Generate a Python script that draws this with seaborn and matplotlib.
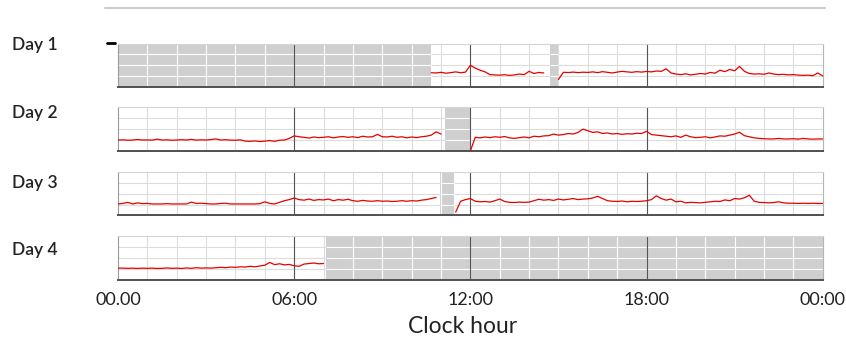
import numpy as np
import pandas as pd
import seaborn as sns
import matplotlib.pyplot as plt
from matplotlib.lines import Line2D

# readings every 10 minutes (6 per hour), 00:00 .. 24:00, None = no data
N = None

day1_values = (
    [N] * 64 +                                            # 00:00 - 10:30 missing
    [1.32, 1.30] +                                        # 10h
    [1.36, 1.28, 1.33, 1.40, 1.32, 1.38] +                # 11h
    [2.00, 1.75, 1.55, 1.40, 1.15, 1.12] +                # 12h
    [1.10, 1.14, 1.08, 1.12, 1.20, 1.15] +                # 13h
    [1.45, 1.25, 1.35, 1.30, N, N] +                      # 14h
    [0.70, 1.36, 1.34, 1.38, 1.33, 1.37] +                # 15h
    [1.35, 1.40, 1.33, 1.42, 1.36, 1.30] +                # 16h
    [1.38, 1.45, 1.40, 1.36, 1.42, 1.38] +                # 17h
    [1.44, 1.40, 1.48, 1.45, 1.68, 1.30] +                # 18h
    [1.20, 1.15, 1.22, 1.12, 1.18, 1.25] +                # 19h
    [1.20, 1.35, 1.28, 1.55, 1.42, 1.62] +                # 20h
    [1.50, 1.90, 1.45, 1.25, 1.20, 1.22] +                # 21h
    [1.18, 1.30, 1.20, 1.15, 1.18, 1.12] +                # 22h
    [1.15, 1.10, 1.08, 1.10, 1.05, 1.30] +                # 23h
    [1.02]
)

day2_values = (
    [1.00, 1.02, 0.98, 1.00, 1.05, 1.00] +                # 0h
    [1.01, 0.99, 1.08, 1.00, 1.02, 0.98] +                # 1h
    [1.00, 1.03, 1.00, 1.06, 0.99, 1.02] +                # 2h
    [1.00, 1.05, 1.10, 1.00, 1.03, 0.99] +                # 3h
    [0.98, 1.02, 0.90, 0.88, 0.92, 0.86] +                # 4h
    [0.90, 0.95, 0.88, 0.98, 1.00, 1.15] +                # 5h
    [1.38, 1.30, 1.25, 1.18, 1.28, 1.22] +                # 6h
    [1.25, 1.30, 1.20, 1.28, 1.32, 1.25] +                # 7h
    [1.30, 1.22, 1.35, 1.28, 1.30, 1.52] +                # 8h
    [1.30, 1.28, 1.35, 1.25, 1.30, 1.20] +                # 9h
    [1.28, 1.22, 1.30, 1.35, 1.45, 1.75] +                # 10h
    [1.55, N, N, N, N, N] +                               # 11h
    [0.00, 1.25, 1.20, 1.28, 1.22, 1.30] +                # 12h
    [1.25, 1.32, 1.20, 1.15, 1.22, 1.28] +                # 13h
    [1.20, 1.35, 1.30, 1.38, 1.40, 1.55] +                # 14h
    [1.45, 1.50, 1.60, 1.55, 1.70, 2.00] +                # 15h
    [1.85, 1.70, 1.75, 1.60, 1.65, 1.55] +                # 16h
    [1.60, 1.52, 1.58, 1.55, 1.62, 1.60] +                # 17h
    [1.80, 1.50, 1.45, 1.40, 1.35, 1.30] +                # 18h
    [1.38, 1.25, 1.45, 1.30, 1.22, 1.25] +                # 19h
    [1.30, 1.20, 1.28, 1.38, 1.35, 1.45] +                # 20h
    [1.55, 1.72, 1.40, 1.30, 1.20, 1.15] +                # 21h
    [1.12, 1.10, 1.10, 1.15, 1.10, 1.10] +                # 22h
    [1.12, 1.08, 1.15, 1.10, 1.08, 1.10] +                # 23h
    [1.10]
)

day3_values = (
    [1.05, 1.10, 1.20, 1.05, 1.15, 1.08] +                # 0h
    [1.10, 1.05, 1.05, 1.05, 1.08, 1.05] +                # 1h
    [1.05, 1.05, 1.05, 1.22, 1.10, 1.12] +                # 2h
    [1.08, 1.05, 1.05, 1.10, 1.12, 1.05] +                # 3h
    [1.05, 1.05, 1.05, 1.05, 1.05, 1.08] +                # 4h
    [1.25, 1.10, 1.05, 1.20, 1.35, 1.45] +                # 5h
    [1.60, 1.45, 1.40, 1.50, 1.38, 1.45] +                # 6h
    [1.42, 1.50, 1.35, 1.45, 1.40, 1.48] +                # 7h
    [1.35, 1.30, 1.38, 1.32, 1.30, 1.35] +                # 8h
    [1.30, 1.32, 1.28, 1.30, 1.35, 1.30] +                # 9h
    [1.35, 1.32, 1.40, 1.45, 1.55, 1.65] +                # 10h
    [N, N, N, 0.30, 1.30, 1.45] +                         # 11h
    [1.55, 1.30, 1.25, 1.28, 1.22, 1.35] +                # 12h
    [1.50, 1.28, 1.20, 1.18, 1.22, 1.20] +                # 13h
    [1.22, 1.35, 1.48, 1.40, 1.45, 1.38] +                # 14h
    [1.50, 1.42, 1.48, 1.55, 1.45, 1.50] +                # 15h
    [1.52, 1.60, 1.75, 1.55, 1.35, 1.30] +                # 16h
    [1.28, 1.32, 1.25, 1.30, 1.28, 1.30] +                # 17h
    [1.35, 1.45, 1.80, 1.55, 1.40, 1.50] +                # 18h
    [1.25, 1.30, 1.15, 1.20, 1.18, 1.15] +                # 19h
    [1.20, 1.25, 1.30, 1.28, 1.42, 1.35] +                # 20h
    [1.55, 1.50, 1.62, 1.85, 1.30, 1.20] +                # 21h
    [1.18, 1.15, 1.18, 1.25, 1.15, 1.12] +                # 22h
    [1.12, 1.10, 1.12, 1.10, 1.12, 1.10] +                # 23h
    [1.10]
)

day4_values = (
    [1.08, 1.08, 1.06, 1.08, 1.05, 1.08] +                # 0h
    [1.06, 1.08, 1.05, 1.06, 1.10, 1.06] +                # 1h
    [1.08, 1.05, 1.10, 1.06, 1.12, 1.08] +                # 2h
    [1.10, 1.08, 1.12, 1.15, 1.12, 1.18] +                # 3h
    [1.15, 1.20, 1.18, 1.25, 1.20, 1.28] +                # 4h
    [1.35, 1.60, 1.40, 1.48, 1.38, 1.42] +                # 5h
    [1.30, 1.25, 1.45, 1.50, 1.55, 1.48] +                # 6h
    [1.50] + [N] * 102                                    # 7:00 - 24:00 missing
)

# grey blocks = periods without recording (hours)
day1_gaps = [(0, 10.67), (14.7, 15.0)]
day2_gaps = [(11.15, 12.03)]
day3_gaps = [(10.97, 11.43)]
day4_gaps = [(7.1, 24)]

day_labels = ['Day 1', 'Day 2', 'Day 3', 'Day 4']
tick_hours = [0, 6, 12, 18, 24]
tick_labels = ['00.00', '06:00', '12:00', '18:00', '00:00']

hours = np.arange(145) / 6.0
days = [day1_values, day2_values, day3_values, day4_values]
gaps = [day1_gaps, day2_gaps, day3_gaps, day4_gaps]

sns.set_style('white')
plt.rcParams['font.family'] = ['Lato', 'DejaVu Sans']

fig = plt.figure(figsize=(8.46, 3.43), dpi=100)

bottoms = [0.746, 0.560, 0.372, 0.184]
label_y = [0.869, 0.671, 0.466, 0.271]
grey = '#cfcfcf'

for i in range(4):
    ax = fig.add_axes([0.1395, bottoms[i], 0.833, 0.127])
    vals = np.array([np.nan if v is None else v for v in days[i]], dtype=float)
    df = pd.DataFrame({'hour': hours, 'value': vals})
    # split into contiguous runs so gaps stay open
    df['segment'] = df['value'].isna().cumsum()
    df = df.dropna()

    ax.set_xlim(0, 24)
    ax.set_ylim(0, 4)

    # light hourly grid
    for h in range(1, 24):
        ax.axvline(h, color='#dcdcdc', lw=0.8, zorder=0)
    for y in [1, 2, 3]:
        ax.axhline(y, color='#dcdcdc', lw=0.8, zorder=0)

    for (a, b) in gaps[i]:
        ax.axvspan(a, b, color=grey, lw=0, zorder=1)
        # white grid lines show through the grey blocks
        for h in range(1, 24):
            if a < h < b:
                ax.axvline(h, color='white', lw=0.8, zorder=1.5)
        ax.hlines([1, 2, 3], a, b, color='white', lw=0.8, zorder=1.5)

    for h in [6, 12, 18]:
        ax.axvline(h, color='#555555', lw=0.8, zorder=2)

    sns.lineplot(data=df, x='hour', y='value', units='segment', estimator=None,
                 color='#e60000', lw=0.9, ax=ax, zorder=3, legend=False)

    ax.set_xlabel('')
    ax.set_ylabel('')
    ax.set_yticks([])
    ax.set_xticks(tick_hours)
    ax.tick_params(axis='x', length=0, pad=9, labelsize=13, colors='#222222')
    if i < 3:
        ax.set_xticklabels([])
    else:
        ax.set_xticklabels(tick_labels)

    ax.spines['left'].set_color('#9a9a9a')
    ax.spines['left'].set_linewidth(0.8)
    ax.spines['top'].set_color('#d5d5d5')
    ax.spines['top'].set_linewidth(0.8)
    ax.spines['right'].set_color('#b5b5b5')
    ax.spines['right'].set_linewidth(0.8)
    ax.spines['bottom'].set_color('#505050')
    ax.spines['bottom'].set_linewidth(1.4)

    fig.text(0.014, label_y[i], day_labels[i], fontsize=12.5, color='#222222',
             va='center', ha='left', weight='semibold')

fig.text(0.547, 0.047, 'Clock hour', fontsize=16.5, color='#222222',
         ha='center', va='center')

# faint rule along the top and the small mark beside Day 1
fig.add_artist(Line2D([0.124, 0.975], [0.977, 0.977], color='#cccccc', lw=1.5))
fig.add_artist(Line2D([0.126, 0.136], [0.875, 0.875], color='black', lw=2))

plt.savefig('out.png', dpi=100)
